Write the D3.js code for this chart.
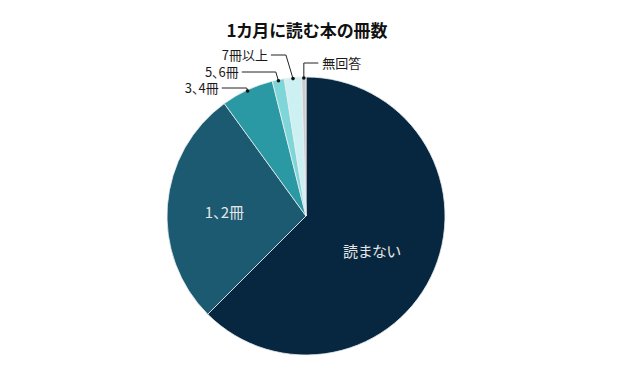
<!DOCTYPE html>
<html>
<head>
<meta charset="utf-8">
<title>1カ月に読む本の冊数</title>
<style>
    body { margin: 0; background: #fff; }
    svg { display: block; font-family: "Noto Sans CJK JP", sans-serif; font-feature-settings: "palt"; }
</style>
</head>
<body>
<main></main>
<script src="https://cdn.jsdelivr.net/npm/d3@7"></script>
<script>
    // データ =====================
    var categories = ["読まない", "1、2冊", "3、4冊", "5、6冊", "7冊以上", "無回答"];
    var values = [62.5, 27.5, 6.1, 1.4, 2.0, 0.5];
    var colors = ["#06273f", "#1b5a71", "#2a99a3", "#7fd6d8", "#cdf1f3", "#cccccc"];
    // ラベルの位置 (inside = 円内, それ以外は引き出し線)
    var labelMode = ["inside", "inside", "left", "left", "left", "right"];
    var labelY = [0, 0, 88, 72, 55, 63];
    var insideShift = [[-6, 6], [-4, 3]];

    var width = 631, height = 370;
    var cx = 306, cy = 216, r = 139;

    var svg = d3.select("main").append("svg")
        .attr("width", width)
        .attr("height", height);

    svg.append("text")
        .attr("x", 307)
        .attr("y", 37)
        .attr("text-anchor", "middle")
        .attr("font-size", "17px")
        .attr("font-weight", "bold")
        .attr("fill", "#111")
        .text("1カ月に読む本の冊数");

    var pie = d3.pie().sort(null).value(function (d) { return d; });
    var arcs = pie(values);
    var arc = d3.arc().innerRadius(0).outerRadius(r);
    var labelArc = d3.arc().innerRadius(0).outerRadius(r * 1.12);

    var g = svg.append("g").attr("transform", "translate(" + cx + "," + cy + ")");

    g.selectAll("path")
        .data(arcs)
        .enter().append("path")
        .attr("d", arc)
        .attr("fill", function (d, i) { return colors[i]; })
        .attr("stroke", "#e8eef0")
        .attr("stroke-width", 0.8);

    // 円内のラベル
    g.selectAll("text.inside")
        .data(arcs.filter(function (d, i) { return labelMode[i] === "inside"; }))
        .enter().append("text")
        .attr("class", "inside")
        .attr("transform", function (d) {
            var c = labelArc.centroid(d), s = insideShift[d.index];
            return "translate(" + (c[0] + s[0]) + "," + (c[1] + s[1]) + ")";
        })
        .attr("text-anchor", "middle")
        .attr("dy", "0.35em")
        .attr("font-size", "15px")
        .attr("fill", "#e6e6e6")
        .text(function (d) { return categories[d.index]; });

    // 引き出し線のラベル
    var outer = arcs.filter(function (d, i) { return labelMode[i] !== "inside"; });
    outer.forEach(function (d) {
        var i = d.index;
        var a = (d.startAngle + d.endAngle) / 2;
        var px = Math.sin(a) * (r - 1), py = -Math.cos(a) * (r - 1);
        var ey = labelY[i] - cy;
        var ex = px - (py - ey) * 0.3;
        var hx = labelMode[i] === "left" ? ex - (i === 2 ? 25 : i === 3 ? 34 : 15) : ex + 19;
        if (labelMode[i] === "right") ex = px;

        g.append("polyline")
            .attr("points", [[px, py], [ex, ey], [hx, ey]].map(function (p) { return p.join(","); }).join(" "))
            .attr("fill", "none")
            .attr("stroke", "#222")
            .attr("stroke-width", 1);
        g.append("circle")
            .attr("cx", px).attr("cy", py).attr("r", 1.8)
            .attr("fill", "#111");
        g.append("text")
            .attr("x", labelMode[i] === "left" ? hx - 3 : hx + 4)
            .attr("y", ey)
            .attr("dy", "0.35em")
            .attr("text-anchor", labelMode[i] === "left" ? "end" : "start")
            .attr("font-size", "13px")
            .attr("fill", "#1a1a1a")
            .text(categories[i]);
    });
</script>
</body>
</html>
